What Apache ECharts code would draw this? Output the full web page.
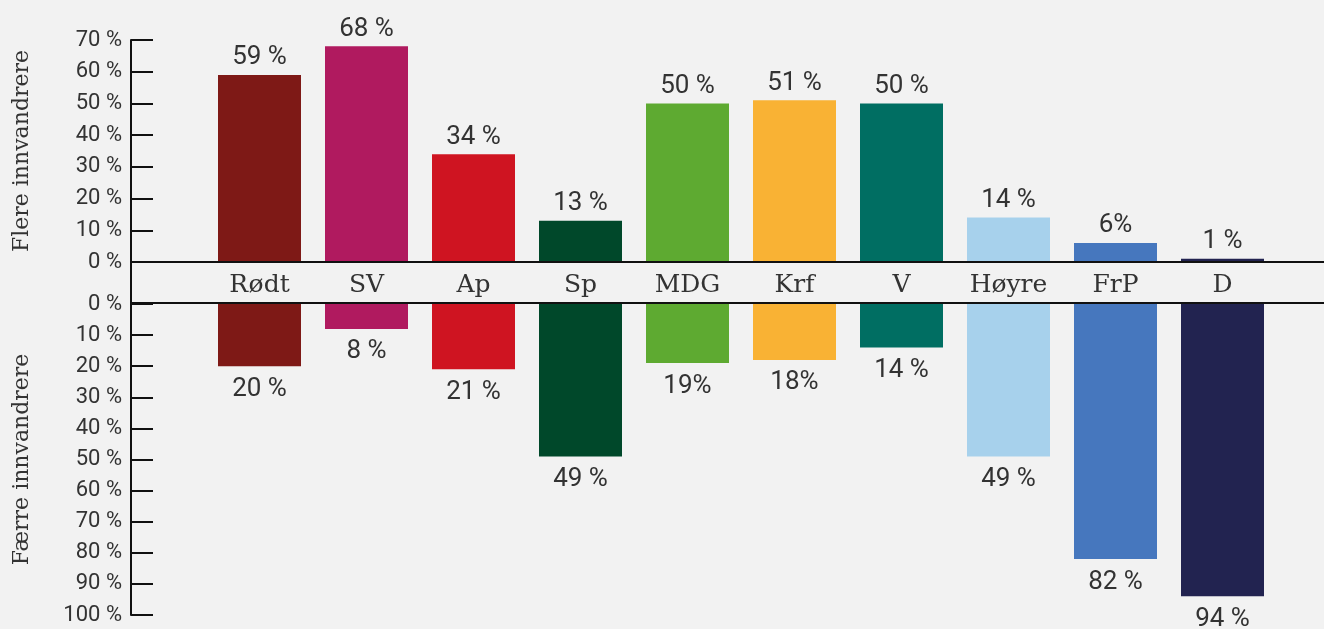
<!DOCTYPE html>
<html>
<head>
<meta charset="utf-8">
<script src="https://cdn.jsdelivr.net/npm/echarts@6/dist/echarts.min.js"></script>
<style>
  html, body { margin: 0; padding: 0; background: #f2f2f2; }
  #myChart { width: 1324px; height: 629px; }
</style>
</head>
<body>
<div id="myChart"></div>
<script>
// partier
const categories = ["Rødt", "SV", "Ap", "Sp", "MDG", "Krf", "V", "Høyre", "FrP", "D"];
const colors = ["#7e1916", "#b01a5f", "#cf1421", "#00482a", "#5eaa31", "#f9b234", "#006e62", "#a7d1ec", "#4677be", "#222350"];
// andel som vil ha flere / færre innvandrere
const flere = [59, 68, 34, 13, 50, 51, 50, 14, 6, 1];
const faerre = [20, 8, 21, 49, 19, 18, 14, 49, 82, 94];
const flereLabels = ["59 %", "68 %", "34 %", "13 %", "50 %", "51 %", "50 %", "14 %", "6%", "1 %"];
const faerreLabels = ["20 %", "8 %", "21 %", "49 %", "19%", "18%", "14 %", "49 %", "82 %", "94 %"];

let chart = echarts.init(document.getElementById("myChart"));

const tickFont = { fontFamily: "Roboto", fontSize: 22, color: "#333333" };
const nameFont = { fontFamily: "DejaVu Serif", fontSize: 22, color: "#333333" };

function yAxisBase(max, inverse, name, gridIndex) {
  return {
    type: "value",
    gridIndex: gridIndex,
    min: 0,
    max: max,
    interval: 10,
    inverse: inverse,
    offset: 75,
    name: name,
    nameLocation: "middle",
    nameRotate: 90,
    nameGap: 98,
    nameTextStyle: nameFont,
    axisLine: { show: true, lineStyle: { color: "#111", width: 2 } },
    axisTick: { show: true, inside: true, length: 22, lineStyle: { color: "#111", width: 2 } },
    axisLabel: Object.assign({ margin: 9, formatter: "{value} %" }, tickFont),
    splitLine: { show: false }
  };
}

let option = {
  backgroundColor: "#f2f2f2",
  animation: false,
  grid: [
    { left: 206, right: 48, top: 40, height: 222 },
    { left: 206, right: 48, top: 304, height: 311 }
  ],
  xAxis: [
    {
      type: "category",
      gridIndex: 0,
      data: categories,
      axisLine: { show: false },
      axisTick: { show: false },
      axisLabel: { margin: 11, fontFamily: "DejaVu Serif", fontSize: 25, color: "#333333" }
    },
    {
      type: "category",
      gridIndex: 1,
      data: categories,
      axisLine: { show: false },
      axisTick: { show: false },
      axisLabel: { show: false }
    }
  ],
  yAxis: [
    yAxisBase(70, false, "Flere innvandrere", 0),
    yAxisBase(100, true, "Færre innvandrere", 1)
  ],
  series: [
    {
      type: "bar",
      xAxisIndex: 0,
      yAxisIndex: 0,
      barWidth: 83,
      data: flere.map((v, i) => ({ value: v, itemStyle: { color: colors[i] } })),
      label: {
        show: true,
        position: "top",
        distance: 4,
        fontFamily: "Roboto",
        fontSize: 26,
        color: "#333333",
        formatter: p => flereLabels[p.dataIndex]
      }
    },
    {
      type: "bar",
      xAxisIndex: 1,
      yAxisIndex: 1,
      barWidth: 83,
      data: faerre.map((v, i) => ({ value: v, itemStyle: { color: colors[i] } })),
      label: {
        show: true,
        position: "bottom",
        distance: 10,
        fontFamily: "Roboto",
        fontSize: 26,
        color: "#333333",
        formatter: p => faerreLabels[p.dataIndex]
      }
    }
  ],
  graphic: [
    { type: "line", shape: { x1: 131, y1: 262, x2: 1324, y2: 262 }, style: { stroke: "#111", lineWidth: 2 }, z: 100 },
    { type: "line", shape: { x1: 131, y1: 303, x2: 1324, y2: 303 }, style: { stroke: "#111", lineWidth: 2 }, z: 100 },
    { type: "line", shape: { x1: 131, y1: 262, x2: 131, y2: 304 }, style: { stroke: "#111", lineWidth: 2 }, z: 100 }
  ]
};

chart.setOption(option);
</script>
</body>
</html>
